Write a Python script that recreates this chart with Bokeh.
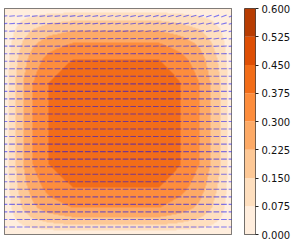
import numpy as np
from bokeh.plotting import figure
from bokeh.layouts import row
from bokeh.models import FixedTicker, Range1d, LinearColorMapper
from bokeh.embed import file_html
from bokeh.resources import INLINE

# contour levels and band colours
levels = [0.0, 0.075, 0.15, 0.225, 0.3, 0.375, 0.45, 0.525, 0.6]
band_colors = ["#ffeede", "#fedfbf", "#fdc896", "#fdaa66",
               "#fd8d3c", "#f26d18", "#de4f05", "#b73c02"]
tick_labels = ["0.000", "0.075", "0.150", "0.225", "0.300", "0.375", "0.450", "0.525", "0.600"]

peak = 0.43
# field profile along the horizontal mid-line (position -> value)
x_pos = [0.0, 0.016, 0.047, 0.081, 0.124, 0.194, 0.30, 0.68, 0.776, 0.857, 0.906, 0.95, 0.982, 1.0]
x_val = [0.0, 0.075, 0.15, 0.225, 0.3, 0.375, peak, peak, 0.375, 0.3, 0.225, 0.15, 0.075, 0.0]
# field profile along the vertical mid-line (bottom -> top)
y_pos = [0.0, 0.018, 0.044, 0.077, 0.118, 0.21, 0.31, 0.67, 0.774, 0.848, 0.901, 0.945, 0.981, 1.0]
y_val = [0.0, 0.075, 0.15, 0.225, 0.3, 0.375, peak, peak, 0.375, 0.3, 0.225, 0.15, 0.075, 0.0]

# vector grid
arrow_x = np.linspace(0.0, 1.0, 31)
arrow_y = np.linspace(1 / 30, 29 / 30, 29)
# tilt (degrees) of arrows in the top rows, sampled at these columns
tilt_cols = [0.0, 0.25, 0.5, 0.75, 1.0]
tilt_rows = {
    29: [5, 7, 10, 15, 20],
    28: [3, 5, 7, 11, 15],
    27: [2, 3, 5, 8, 11],
    26: [1, 2, 3, 5, 7],
    25: [0, 1, 2, 3, 4],
    24: [0, 0, 1, 2, 2],
}

# ---- field
N = 454
X = (np.arange(N) + 0.5) / N
Y = (np.arange(N) + 0.5) / N
gx = np.interp(X, x_pos, x_val)
gy = np.interp(Y, y_pos, y_val)
Z = np.outer(gy, gx) / peak

mapper = LinearColorMapper(palette=band_colors, low=levels[0], high=levels[-1])

p = figure(frame_width=227, frame_height=226, x_range=Range1d(0, 1), y_range=Range1d(0, 1),
           x_axis_location=None, y_axis_location=None, toolbar_location=None,
           output_backend="svg", min_border_left=4, min_border_right=1,
           min_border_top=8, min_border_bottom=2)
p.grid.visible = False
p.background_fill_color = band_colors[0]
p.outline_line_color = "#555555"
p.outline_line_width = 1
p.image(image=[Z], x=0, y=0, dw=1, dh=1, color_mapper=mapper)

# ---- vectors
L = 0.0125
x0, y0, x1, y1 = [], [], [], []
for k, yy in enumerate(arrow_y, start=1):
    if k in tilt_rows:
        ang = np.interp(arrow_x, tilt_cols, tilt_rows[k])
    else:
        ang = np.zeros_like(arrow_x)
    th = np.radians(ang)
    dx = L * np.cos(th)
    dy = L * np.sin(th)
    x0.extend(arrow_x - dx); x1.extend(arrow_x + dx)
    y0.extend(yy - dy); y1.extend(yy + dy)
p.segment(x0, y0, x1, y1, line_color="#0000ff", line_alpha=0.5, line_width=1.1)

# ---- colour bar
cb = figure(frame_width=11, frame_height=226, x_range=Range1d(0, 1), y_range=Range1d(0, 0.6),
            x_axis_location=None, y_axis_location="right", toolbar_location=None,
            output_backend="svg", min_border_left=12, min_border_right=0,
            min_border_top=8, min_border_bottom=8)
cb.grid.visible = False
cb.quad(left=0, right=1, bottom=levels[:-1], top=levels[1:], fill_color=band_colors, line_color=None)
cb.outline_line_color = "#444444"
cb.outline_line_width = 1
ax = cb.yaxis[0]
ax.ticker = FixedTicker(ticks=levels)
ax.major_label_overrides = {lv: t for lv, t in zip(levels, tick_labels)}
ax.axis_line_color = None
ax.major_tick_in = 0
ax.major_tick_out = 3
ax.minor_tick_line_color = None
ax.major_tick_line_color = "#222222"
ax.major_label_standoff = 3
ax.major_label_text_font = "DejaVu Sans"
ax.major_label_text_font_size = "10px"
ax.major_label_text_color = "#111111"

lay = row(p, cb, spacing=0)

open("out.html", "w").write(file_html(lay, INLINE))
